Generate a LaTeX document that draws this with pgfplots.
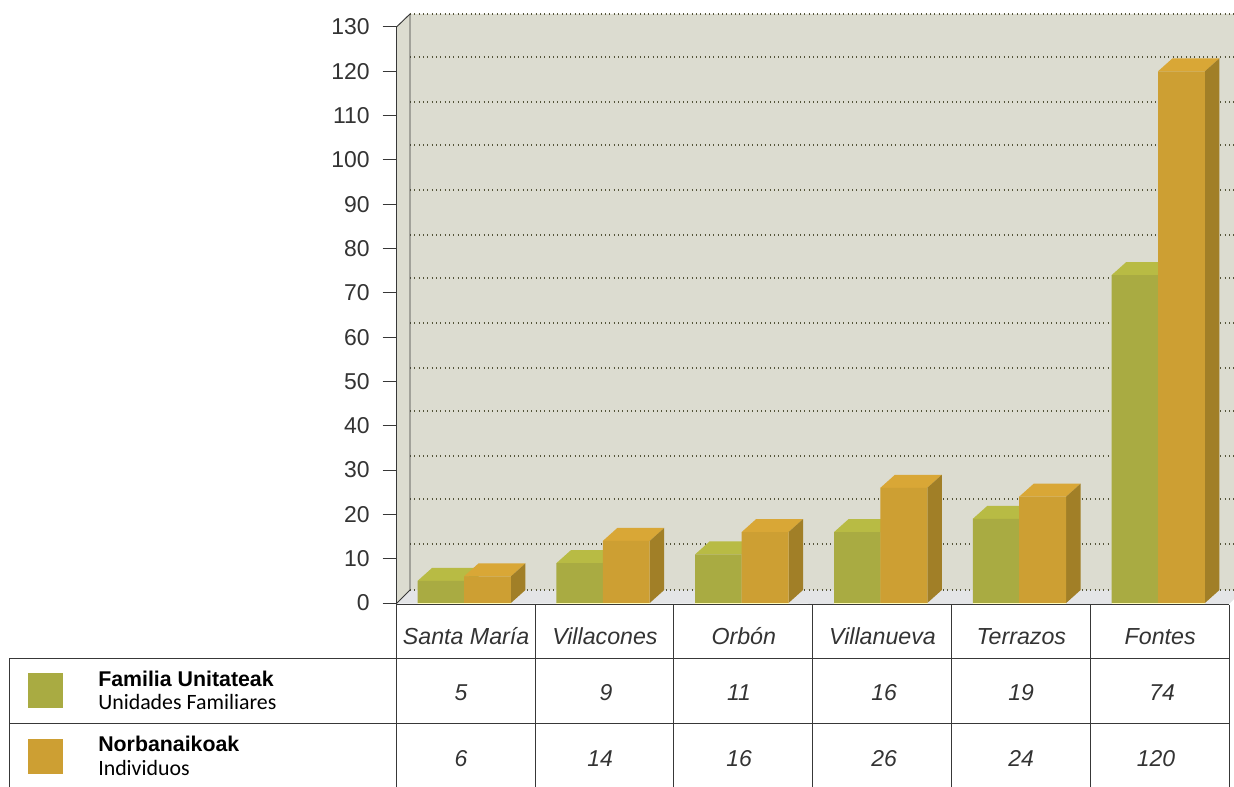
\documentclass[border=0pt]{standalone}
\usepackage{pgfplots}
\pgfplotsset{compat=1.18}
\usepackage{fontspec}
\setmainfont{Liberation Sans}
\newfontfamily\legfont{Carlito}
\definecolor{wall}{HTML}{DCDCD0}
\definecolor{floorc}{HTML}{E4E5E7}
\definecolor{grn}{HTML}{A9AB42}
\definecolor{grnt}{HTML}{B8BB44}
\definecolor{org}{HTML}{CD9F33}
\definecolor{orgt}{HTML}{D9A736}
\definecolor{orgs}{HTML}{A17F27}
\definecolor{ln}{HTML}{383838}
\definecolor{dots}{HTML}{55553A}
\newcommand{\faces}[6]{% category, left, right (offsets), value, top colour, side colour
  \pgfmathsetmacro{\xa}{#1+#2}
  \pgfmathsetmacro{\xb}{#1+#3}
  \pgfmathsetmacro{\xc}{#1+#3+0.1045}
  \pgfmathsetmacro{\xd}{#1+#2+0.1045}
  \pgfmathsetmacro{\yc}{#4+2.934}
  \edef\temp{\noexpand\addplot[fill=#5,draw=none] coordinates {(\xa,#4)(\xb,#4)(\xc,\yc)(\xd,\yc)} -- cycle;
    \noexpand\addplot[fill=#6,draw=none] coordinates {(\xb,0)(\xc,2.934)(\xc,\yc)(\xb,#4)} -- cycle;}
  \temp}
\begin{document}
\begin{tikzpicture}
\useasboundingbox (0,0) rectangle (925.5pt,-590.25pt);
\begin{scope}[x=0.75pt,y=-0.75pt]
  \fill[wall] (396.5,27) -- (410,14) -- (1234,14) -- (1234,590) -- (410,590) -- (396.5,603) -- cycle;
  \fill[floorc] (396.5,603.5) -- (410,590) -- (1234,590) -- (1234,599) -- (1229,604) -- cycle;
  \foreach \py in {14,57,102,145,190,235,278,323,368,411,456,499,544,590}
    \draw[dots,line width=0.9pt,dash pattern=on 0.8pt off 2.45pt] (410,\py) -- (1234,\py);
  \draw[ln,line width=0.7pt] (410,14) -- (410,590) -- (396.5,603.5);
  \draw[ln,line width=0.7pt] (396.5,27) -- (410,14);
\end{scope}
\begin{axis}[
  at={(297.375pt,-452.25pt)}, anchor=south west,
  scale only axis, width=628.125pt, height=432pt,
  xmin=-0.4863, xmax=5.5476, ymin=0, ymax=130,
  clip=false,
  axis y line=left, axis x line=bottom,
  axis line style={-, draw=ln, line width=0.75pt},
  x axis line style={draw=none},
  ytick={0,10,...,130},
  xtick={0,1,2,3,4,5},
  xticklabels={Santa María,Villacones,Orbón,Villanueva,Terrazos,Fontes},
  /pgf/number format/assume math mode=true,
  major tick length=10.5pt,
  tick align=outside,
  ytick style={draw=ln, line width=0.75pt},
  xtick style={draw=none},
  yticklabel style={font=\fontsize{17.2pt}{20pt}\selectfont, inner sep=0pt, text=black!80},
  yticklabel shift=9.5pt,
  xticklabel style={font=\fontsize{17.4pt}{20pt}\selectfont\itshape, anchor=base, xshift=1.6pt, yshift=-20.6pt, inner sep=0pt, text=black!80},
]
\faces{0}{-0.334}{0}{5}{grnt}{grn}
\faces{1}{-0.334}{0}{9}{grnt}{grn}
\faces{2}{-0.334}{0}{11}{grnt}{grn}
\faces{3}{-0.334}{0}{16}{grnt}{grn}
\faces{4}{-0.334}{0}{19}{grnt}{grn}
\faces{5}{-0.334}{0}{74}{grnt}{grn}
\addplot[ybar, bar width=34.8pt, bar shift=-17.4pt, fill=grn, draw=none]
  coordinates {(0,5)(1,9)(2,11)(3,16)(4,19)(5,74)};
\faces{0}{0}{0.338}{6}{orgt}{orgs}
\faces{1}{0}{0.338}{14}{orgt}{orgs}
\faces{2}{0}{0.338}{16}{orgt}{orgs}
\faces{3}{0}{0.338}{26}{orgt}{orgs}
\faces{4}{0}{0.338}{24}{orgt}{orgs}
\faces{5}{0}{0.338}{120}{orgt}{orgs}
\addplot[ybar, bar width=35.2pt, bar shift=17.6pt, fill=org, draw=none]
  coordinates {(0,6)(1,14)(2,16)(3,26)(4,24)(5,120)};
\end{axis}
\begin{scope}[x=0.75pt,y=-0.75pt]
  \foreach \xa/\xb in {418/511,556/650,695/789,834/928,973/1066,1112/1205}
    \draw[yellow!25!white,line width=0.75pt] (\xa,603) -- (\xb,603);
  \draw[ln,line width=0.9pt] (396,604.5) -- (1229,604.5);
  \foreach \x in {396.5,535,673.7,812,951,1090,1229}
    \draw[ln,line width=0.75pt] (\x,604.5) -- (\x,787);
  \draw[ln,line width=0.75pt] (9.3,787) -- (9.3,658.5) -- (1229,658.5);
  \draw[ln,line width=0.75pt] (9.3,723.5) -- (1229,723.5);
  \fill[grn] (28,673) rectangle (63,708);
  \fill[org] (28,739) rectangle (63,774);
  \node[anchor=base west,inner sep=0pt,font=\fontsize{16pt}{18pt}\selectfont\bfseries] at (98,686) {Familia Unitateak};
  \node[anchor=base west,inner sep=0pt,font=\fontsize{16.4pt}{18pt}\selectfont\legfont] at (98,709) {Unidades Familiares};
  \node[anchor=base west,inner sep=0pt,font=\fontsize{16pt}{18pt}\selectfont\bfseries] at (98,751) {Norbanaikoak};
  \node[anchor=base west,inner sep=0pt,font=\fontsize{16.4pt}{18pt}\selectfont\legfont] at (98,775) {Individuos};
  \foreach \x/\t in {461/5,606/9,739/11,884/16,1021/19,1162/74}
    \node[font=\fontsize{17.2pt}{20pt}\selectfont\itshape,text=black!80] at (\x,692.5) {\t};
  \foreach \x/\t in {461/6,600/14,739/16,884/26,1021/24,1156/120}
    \node[font=\fontsize{17.2pt}{20pt}\selectfont\itshape,text=black!80] at (\x,758.5) {\t};
\end{scope}
\end{tikzpicture}
\end{document}
